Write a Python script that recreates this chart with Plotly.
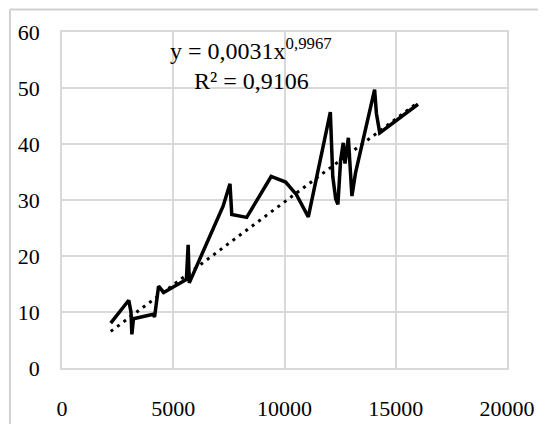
import numpy as np
import plotly.graph_objects as go

# Data
x_vals = [2190, 3000, 3100, 3140, 3210, 4100, 4160, 4340, 4570, 5590, 5670, 5720,
          7240, 7550, 7630, 8300, 9400, 10050, 10530, 11070, 12060, 12170, 12300,
          12400, 12520, 12640, 12720, 12870, 13030, 13190, 14050, 14130, 14280,
          15930, 16000]
y_vals = [8.0, 12.1, 10.0, 6.0, 8.8, 9.6, 9.1, 14.6, 13.5, 15.8, 22.0, 15.2,
          28.9, 32.9, 27.4, 26.9, 34.2, 33.2, 31.0, 27.0, 45.7, 34.2, 30.2,
          29.2, 37.0, 40.2, 36.5, 41.1, 30.7, 34.8, 49.7, 45.5, 42.0,
          47.0, 47.1]

# Power trendline (coefficient shown rounded as 0,0031 in the chart)
trend_a = 0.00306
trend_b = 0.9967
trend_x = np.linspace(min(x_vals), max(x_vals), 200)
trend_y = trend_a * trend_x ** trend_b

x_ticks = [0, 5000, 10000, 15000, 20000]
y_ticks = [0, 10, 20, 30, 40, 50, 60]

FONT = "Liberation Serif"
GRID = "#d9d9d9"

fig = go.Figure()
fig.add_trace(go.Scatter(x=x_vals, y=y_vals, mode="lines",
                         line=dict(color="black", width=3.5), showlegend=False))
fig.add_trace(go.Scatter(x=trend_x, y=trend_y, mode="lines",
                         line=dict(color="black", width=3, dash="3px,5px"),
                         showlegend=False))

fig.add_annotation(x=8500, y=57.0, xref="x", yref="y",
                   text="y = 0,0031x<sup>0,9967</sup>", showarrow=False,
                   font=dict(family=FONT, size=24, color="black"))
fig.add_annotation(x=8500, y=51.3, xref="x", yref="y",
                   text="R² = 0,9106", showarrow=False,
                   font=dict(family=FONT, size=24, color="black"))

# outer chart frame (top and left visible)
fig.add_shape(type="line", xref="paper", yref="paper", x0=-0.117, x1=1.2,
              y0=1.067, y1=1.067, line=dict(color="#d0d0d0", width=2))
fig.add_shape(type="line", xref="paper", yref="paper", x0=-0.117, x1=-0.117,
              y0=1.067, y1=-0.3, line=dict(color="#d0d0d0", width=2))

fig.update_layout(
    width=538, height=416,
    margin=dict(l=54, r=39, t=24, b=56),
    paper_bgcolor="white", plot_bgcolor="white",
    font=dict(family=FONT, size=22, color="black"),
)
fig.update_xaxes(range=[0, 20000], tickvals=x_ticks, ticktext=[str(v) for v in x_ticks],
                 showgrid=True, gridcolor=GRID, gridwidth=1.5,
                 showline=True, linecolor=GRID, linewidth=1.5, mirror=True,
                 zeroline=False, ticks="", ticklabelstandoff=20, automargin=False,
                 tickfont=dict(family=FONT, size=22, color="black"))
fig.update_yaxes(range=[0, 60], tickvals=y_ticks, ticktext=[str(v) for v in y_ticks],
                 showgrid=True, gridcolor=GRID, gridwidth=1.5,
                 showline=True, linecolor=GRID, linewidth=1.5, mirror=True,
                 zeroline=False, ticks="", ticklabelstandoff=16, automargin=False,
                 tickfont=dict(family=FONT, size=22, color="black"))

fig.write_html("out.html")
